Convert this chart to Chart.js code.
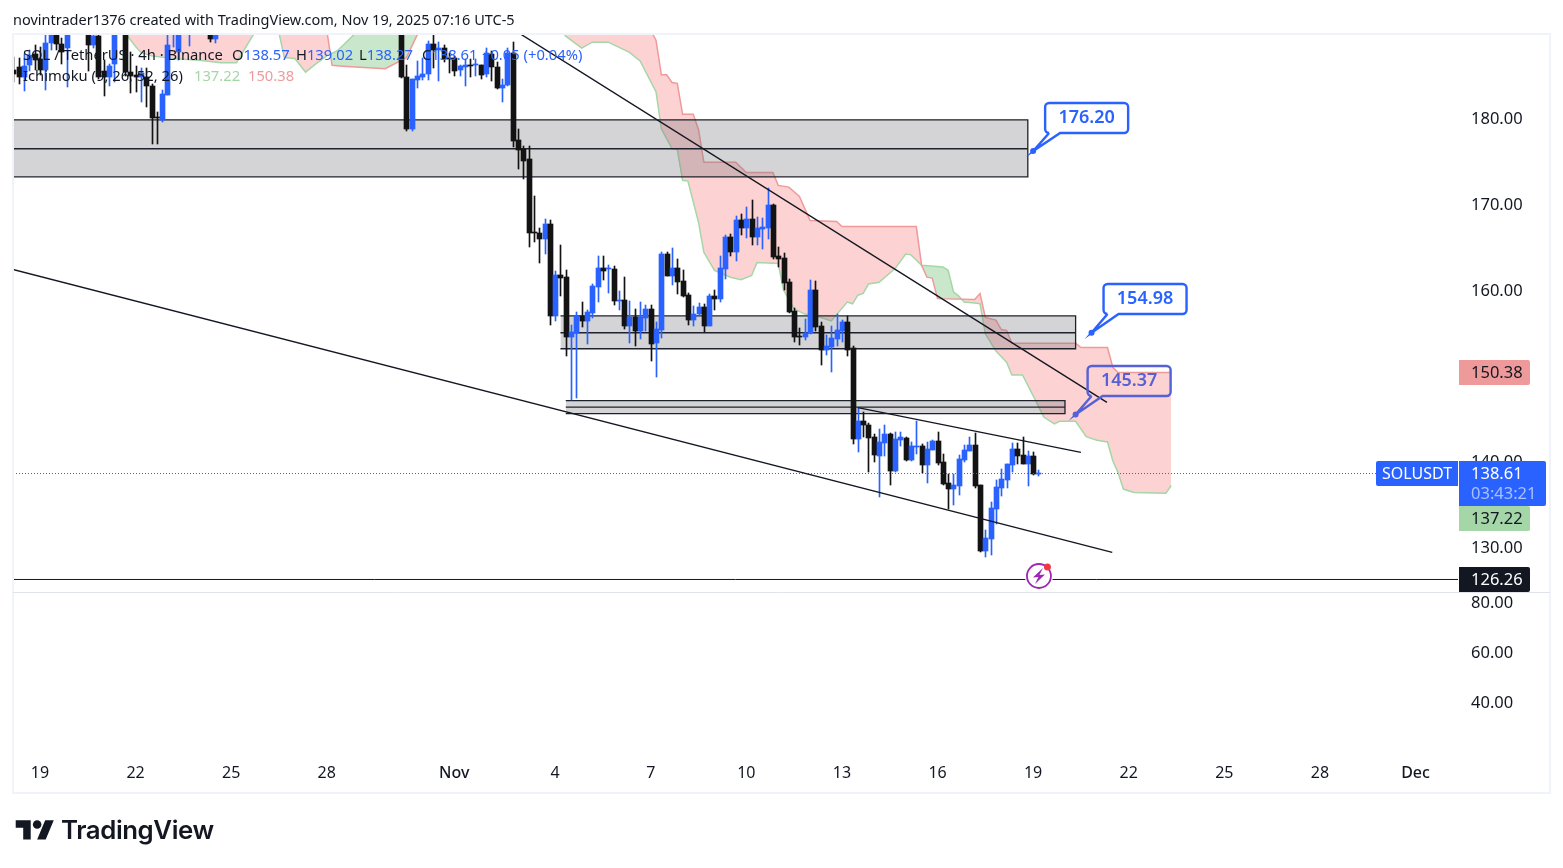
<!DOCTYPE html>
<html>
<head>
<meta charset="utf-8">
<title>SOLUSDT 4h</title>
<script src="https://cdn.jsdelivr.net/npm/chart.js@4"></script>
<style>
  html, body { margin: 0; padding: 0; background: #fff; }
  #wrap { position: relative; width: 1563px; height: 868px; overflow: hidden; font-family: "Noto Sans", sans-serif; color: #131722; }
  canvas { position: absolute; left: 0; top: 0; }
  .t { position: absolute; white-space: pre; line-height: 20px; font-size: 14.75px; }
  .blue { color: #2962ff; }
</style>
</head>
<body>
<div id="wrap">
  <canvas id="chart" width="1563" height="868"></canvas>
  <div class="t" style="left:13px;top:9px;font-size:14.5px">novintrader1376 created with TradingView.com, Nov 19, 2025 07:16 UTC-5</div>
  <div class="t" style="left:23px;top:44px">SOL / TetherUS · 4h · Binance</div>
  <div class="t" style="left:232px;top:44px">O<span class="blue">138.57</span></div>
  <div class="t" style="left:296px;top:44px">H<span class="blue">139.02</span></div>
  <div class="t" style="left:359px;top:44px">L<span class="blue">138.27</span></div>
  <div class="t" style="left:422px;top:44px">C<span class="blue">138.61</span></div>
  <div class="t blue" style="left:482px;top:44px">+0.05 (+0.04%)</div>
  <div class="t" style="left:23px;top:65px">Ichimoku (9, 26, 52, 26)</div>
  <div class="t" style="left:194px;top:65px;color:#a5d6a7">137.22</div>
  <div class="t" style="left:248px;top:65px;color:#ef9a9a">150.38</div>
  <svg style="position:absolute;left:15px;top:816px" width="40" height="30" viewBox="0 0 36 28" fill="#131722">
    <path d="M14 22H7V11H0V4h14v18zM28 22h-8l7.5-18h8L28 22z"/><circle cx="20" cy="8" r="4"/>
  </svg>
  <div class="t" style="left:61px;top:817px;line-height:26px;font-family:Inter,sans-serif;font-weight:600;font-size:25.8px;letter-spacing:-0.4px">TradingView</div>
</div>
<script>
// 4h candles, two visible runs; the bars between them sit above the visible range
const barRuns = [[-6, 39], [67, 121]];

const opens = [
  185.6,186.0,184.8,186.2,187.5,186.9,185.7,188.8,190.5,188.7,188.2,190.3,192.5,193.5,191.5,188.6,189.6,185.5,184.8,186.3,
  190.3,191.5,185.4,185.1,184.8,184.8,183.8,180.2,179.8,182.7,190.3,187.8,190,190.2,191,192,191.5,190.2,189.3,
  190.8,184.86,178.83,184.46,184.86,185.13,188.74,187.93,188.27,186.99,
  187.11,185.64,185.98,186.29,186.18,186.29,185.21,187.54,186.06,183.5,
  183.88,187.58,177.44,176.39,175.22,166.68,166.68,165.93,167.65,156.96,
  161.7,161.47,154.51,155.0,156.96,156.34,157.31,160.34,162.52,162.4,
  162.4,158.71,158.79,155.79,156.81,155.18,156.73,157.74,153.81,155.29,
  164.15,161.62,162.52,161.0,159.37,156.46,157.16,157.97,155.79,159.25,
  158.9,162.4,166.13,164.38,168.11,167.18,168.23,166.13,167.06,167.18,
  169.86,163.92,163.68,160.89,157.51,154.59,154.48,154.94,159.95,155.76,
  152.96,153.31,154.24,155.18,156.22,153.19,142.59,144.69,144.22,142.82,
  140.6,142.12,143.17,138.86,142.47,142.7,140.14,141.7,141.77,139.56,
  141.3,142.35,139.91,137.46,136.76,137.11,140.14,141.19,141.89,137.23,
  129.53,130.93,134.43,136.88,137.81,139.56,141.42,140.72,139.67,140.6,
  138.57
];
const highs = [
  187.2,187.1,187.5,188.0,188.6,188.3,189.8,191.5,191.5,189.4,190.8,193,194,194.5,192,190.5,190.8,186.8,186.3,191,
  192,192,187.7,186.1,185.9,185.9,184,180.7,183.3,190.5,191.5,191,192,191.5,192.5,193,192,190.6,190.6,
  191.5,186.29,184.66,186.76,187,189.09,189.8,188.97,188.62,187.69,
  187.26,186.29,186.99,186.88,186.88,186.29,188.16,187.84,186.53,184.55,
  188.16,188.97,178.72,176.85,176.85,170.91,167.18,168.34,168.11,162.17,
  165.2,162.28,155.87,157.39,158.55,157.62,160.65,163.92,163.92,162.87,
  162.75,159.84,161.47,158.67,157.74,158.55,158.21,158.21,156.26,164.42,
  164.42,164.85,163.57,162.28,159.64,158.09,158.44,158.32,159.49,159.95,
  163.92,166.36,166.48,168.69,168.81,169.74,170.44,168.5,168.38,171.84,
  170.09,165,164.27,161.24,157.86,155.52,156.57,161.12,161,156.26,
  154.71,155.76,157.16,156.46,156.96,153.43,146.28,145.73,144.45,143.17,
  143.75,144.22,143.29,143.4,143.4,142.82,142.24,144.69,142,142.24,
  142.47,143.4,140.84,138.51,138.51,140.72,141.89,142.82,143.29,137.23,
  131.98,135.25,137.81,139.09,139.67,142.12,142.12,142.82,141.19,141.07,
  139.02
];
const lows = [
  184.2,184.0,183.2,185.5,185.7,185.1,183.3,188.0,188.0,186.3,183.7,190,191.5,191,185.5,188.2,184.6,182.6,183.8,184.2,
  190,184.9,183.0,183.1,181.9,181.3,177,177,179.6,182.7,188.3,186.8,189.9,188.4,190.2,191,190.5,188.9,188.8,
  184.7,178.6,178.6,183.61,184.43,184.43,185.94,184.35,186.53,185.36,
  184.93,185.01,183.76,184.81,184.93,184.66,184.78,184.35,183.38,181.9,
  183.76,176.65,174.17,172.89,165,165.58,163.14,164.15,155.87,156.37,
  159.29,152.26,147.13,147.37,155.68,153.66,156.73,158.59,161.12,159.64,
  158.21,157.62,155.41,153.81,153.46,154.24,155.21,151.71,149.85,154.39,
  161.62,160.57,159.49,159.14,155.87,155.76,157.12,155.06,155.76,157.62,
  158.59,161.24,163.92,163.33,166.36,166.05,165.2,165.2,164.73,165.9,
  163.57,162.63,159.95,157.31,153.89,153.54,154.13,154.91,155.18,151.21,
  152.38,150.4,153.46,153.89,152.26,142,141.11,142.82,138.74,139.91,
  135.86,140.6,137.23,138.78,141.77,140.02,140.02,140.84,138.63,137.46,
  141.3,139.56,137.23,134.43,134.89,136.06,139.91,141.19,136.88,129.42,
  128.87,129.07,132.68,135.94,136.88,138.74,139.67,139.67,137.11,138.39,
  138.27
];
const closes = [
  185.2,184.8,186.1,187.4,186.8,185.7,188.8,190.3,188.7,187.7,190.3,192.5,193.5,192,188.6,189.6,184.8,184.8,186.1,190.3,
  191.5,185.4,185.0,184.8,185.3,183.8,180.1,180.0,182.8,188.6,191,190,191.5,191,192,191.5,190.6,189.3,190.2,
  184.81,178.83,184.55,185.01,185.21,188.71,188.04,188.27,186.99,186.9,
  185.59,186.1,186.29,186.1,186.29,185.05,187.58,185.98,183.5,183.96,
  187.58,177.35,176.27,175.1,166.63,166.63,165.93,167.65,156.96,161.7,
  161.39,154.51,155.06,156.96,156.34,157.39,160.45,162.52,162.2,162.45,
  158.71,158.79,155.79,156.81,155.18,156.81,157.74,153.66,155.41,164.15,
  161.62,162.52,160.89,159.25,156.46,157.24,157.97,155.79,159.25,158.94,
  162.52,166.13,164.38,168.11,167.18,168.23,166.13,167.18,167.3,169.86,
  163.8,163.57,160.77,157.39,154.48,154.48,154.98,159.95,155.64,152.96,
  153.43,154.36,155.29,156.22,152.96,142.59,144.69,144.22,142.7,140.72,
  142.24,143.17,138.86,142.59,142.82,140.14,141.77,141.77,139.56,141.42,
  142.35,139.79,137.34,136.76,137.23,140.26,141.3,141.89,137.11,129.53,
  131.05,134.55,136.99,137.93,139.67,141.42,140.69,139.67,140.6,138.5,
  138.61
];

// Ichimoku leading spans, vertices (bar index, price)
const spanABars = [-6,14,15,17,18,20,24,29,33,36,39,40,42,44,45,47,49,51,53,55,57,59,64,70,97,98,101,103,106,110,112,115,116,118,119,120,121,123,124,126,129,131,133,134,138,139,141,143,145,148,151,152,153,154,155,157,160,162,163,165,169,170,171,172,173,175,176,177,179,181,182,184,186,188,190,191,194,196,198,200,201,202,203,205,211,212];
const spanAValues = [197,191,190,188.4,187.7,187.3,187,186.8,186.5,186.5,189.6,190.5,191.5,190,187.1,187,185.4,186.4,187.3,187.9,189.1,190.3,191,191,190.5,189.6,188.2,188.9,188.9,187.7,186.7,183.1,178.8,176.5,176.4,172.8,172.7,167.9,164.4,162.3,161.5,161.2,161.7,163.2,163.1,160,157.8,157.2,157,156.4,158.6,158.4,159.4,159.6,160.7,160.9,162.5,164.2,164.1,162.9,162.7,162.3,159.8,159.3,158.6,158.5,158.4,154.9,152.9,151.6,150.1,150.1,147.7,145.2,144.4,144.7,144.7,142.9,142.5,142.3,140.1,138.7,136.8,136.4,136.3,137.22];
const spanBBars = [-6,14,17,40,42,44,53,54,56,64,68,70,72,97,114,115,116,117,118,119,120,122,123,124,130,132,137,138,140,142,144,149,150,164,165,166,167,168,175,176,177,179,180,181,182,194,195,200,201,202,212];
const spanBValues = [195,192,192,192,191,192,190.3,186.2,186.1,185.8,187.1,189.7,191,192,190.3,189.1,185.1,185.1,184.2,184.1,180.5,180.5,178.7,174.9,174.9,173.7,173.7,172.2,172,170.9,168.1,168,167.4,167.4,162.9,161.5,161.4,159,158.9,159.6,156.8,156.5,155.4,155.3,153.8,153.8,153.3,153.3,151,150.38,150.38];

// grey zones: first bar, last bar, top, middle, bottom
const zoneStart = [-7, 97, 98];
const zoneEnd = [185, 194, 192];
const zoneTop = [179.85, 156.98, 147.11];
const zoneMid = [176.47, 155.02, 146.36];
const zoneLow = [173.2, 153.16, 145.59];

// trend lines
const trendBars = [[89.6, 199.9], [-6.1, 200.9], [153, 195]];
const trendPrices = [[189.8, 146.9], [162.4, 129.42], [146.3, 141.07]];

const floorPrice = 126.26;
const lastPrice = 138.61;
const leftBar = -6.08, rightBar = 266;

const dayTickBars = [-1,17,35,53,77,96,114,132,150,168,186,204,222,240,258];
const dayTickLabels = ['19','22','25','28','Nov','4','7','10','13','16','19','22','25','28','Dec'];
const mainTicks = [180,170,160,150,140,130];
const lowerTicks = [80,60,40];

const calloutTexts = ['176.20','154.98','145.37'];
const calloutBars = [186,197,194];
const calloutPrices = [176.2,155.02,145.5];
const calloutColors = ['#2962ff','#2962ff','#5561d6'];

const BLUE = '#2962ff', BLACK = '#131313', INK = '#131722';
const axisFont = '"Noto Sans", sans-serif';

const barIndex = [];
barRuns.forEach(([start, count]) => { for (let i = 0; i < count; i++) barIndex.push(start + i); });
const barColors = opens.map((o, i) => closes[i] >= o ? BLUE : BLACK);

const datasets = [];

// cloud
datasets.push({
  type: 'line', label: 'Leading span A', order: 50, yAxisID: 'y',
  data: spanABars.map((b, i) => ({ x: b, y: spanAValues[i] })),
  borderColor: '#a5d6a7', borderWidth: 1.5, pointRadius: 0, tension: 0,
  fill: { target: 1, above: 'rgba(76,175,80,0.3)', below: 'rgba(245,60,60,0.23)' }
});
datasets.push({
  type: 'line', label: 'Leading span B', order: 49, yAxisID: 'y',
  data: spanBBars.map((b, i) => ({ x: b, y: spanBValues[i] })),
  borderColor: '#ef9a9a', borderWidth: 1.5, pointRadius: 0, tension: 0, fill: false
});

// zones
zoneStart.forEach((s, z) => {
  const e = zoneEnd[z];
  datasets.push({
    type: 'line', order: 40, yAxisID: 'y',
    data: [{ x: s, y: zoneTop[z] }, { x: e, y: zoneTop[z] }],
    borderWidth: 0, pointRadius: 0,
    fill: { value: zoneLow[z] }, backgroundColor: 'rgba(115,115,124,0.31)'
  });
  datasets.push({
    type: 'line', order: 39, yAxisID: 'y',
    data: [{ x: s, y: zoneTop[z] }, { x: e, y: zoneTop[z] }, { x: e, y: zoneLow[z] }, { x: s, y: zoneLow[z] }],
    borderColor: '#1e222d', borderWidth: 1.3, pointRadius: 0, fill: false
  });
  datasets.push({
    type: 'line', order: 39, yAxisID: 'y',
    data: [{ x: s, y: zoneMid[z] }, { x: e, y: zoneMid[z] }],
    borderColor: '#1e222d', borderWidth: 1.3, pointRadius: 0, fill: false
  });
});

// candles
datasets.push({
  type: 'bar', label: 'wicks', order: 31, yAxisID: 'y', grouped: false,
  data: barIndex.map((b, i) => ({ x: b, y: [lows[i], highs[i]] })),
  backgroundColor: barColors, barThickness: 1
});
datasets.push({
  type: 'bar', label: 'bodies', order: 30, yAxisID: 'y', grouped: false,
  data: barIndex.map((b, i) => ({ x: b, y: [opens[i], closes[i]] })),
  backgroundColor: barColors, barThickness: 5, minBarLength: 1
});

// trend lines
trendBars.forEach((tb, t) => {
  datasets.push({
    type: 'line', order: 10, yAxisID: 'y',
    data: tb.map((b, i) => ({ x: b, y: trendPrices[t][i] })),
    borderColor: '#131722', borderWidth: 1.4, pointRadius: 0, fill: false
  });
});

// floor line and last price line
datasets.push({
  type: 'line', order: 11, yAxisID: 'y',
  data: [{ x: leftBar, y: floorPrice }, { x: rightBar, y: floorPrice }],
  borderColor: '#131722', borderWidth: 1, pointRadius: 0, fill: false
});
datasets.push({
  type: 'line', order: 12, yAxisID: 'y',
  data: [{ x: leftBar, y: lastPrice }, { x: rightBar, y: lastPrice }],
  borderColor: BLUE, borderWidth: 1, borderDash: [1, 2], pointRadius: 0, fill: false
});

// candles get snapped to whole pixels so they stay crisp like the original
const snapBars = {
  id: 'snapBars',
  beforeDatasetsDraw(chart) {
    chart.getSortedVisibleDatasetMetas().forEach(meta => {
      if (meta.type !== 'bar') return;
      meta.data.forEach(el => {
        el.x = Math.round(el.x) + 0.5;
        el.y = Math.round(el.y);
        el.base = Math.round(el.base);
        if (el.y === el.base) el.base = el.y + 1;
      });
    });
  }
};

// nudge the price labels down a little, the font sits high on the middle baseline
function nudgeLabels(s) {
  if (s._nudged) return;
  s._nudged = true;
  const orig = s._computeLabelItems;
  s._computeLabelItems = function (area) {
    const items = orig.call(this, area);
    items.forEach(it => { it.options.translation[1] += 0.8; });
    return items;
  };
}

function tag(ctx, x, y, w, h, fill, lines) {
  ctx.fillStyle = fill;
  ctx.beginPath();
  ctx.roundRect(x, y, w, h, [0, 2, 2, 0]);
  ctx.fill();
  ctx.textBaseline = 'middle';
  ctx.textAlign = 'left';
  lines.forEach(l => {
    ctx.fillStyle = l.color;
    ctx.font = '16.5px ' + axisFont;
    ctx.fillText(l.text, x + l.dx, l.y);
  });
}

const overlay = {
  id: 'overlay',
  afterDraw(chart) {
    const { ctx } = chart;
    const xs = chart.scales.x, ys = chart.scales.y;
    ctx.save();

    // pane frame
    ctx.strokeStyle = '#f0f3fa';
    ctx.lineWidth = 2;
    ctx.strokeRect(13, 34, 1537, 759);
    ctx.strokeStyle = '#e0e3eb';
    ctx.lineWidth = 1;
    ctx.beginPath();
    ctx.moveTo(13, 592.5);
    ctx.lineTo(1550, 592.5);
    ctx.stroke();

    // callouts
    calloutTexts.forEach((txt, i) => {
      const px = xs.getPixelForValue(calloutBars[i]);
      const py = ys.getPixelForValue(calloutPrices[i]);
      const bx = px + 12, by = Math.round(py - 48.5), bw = 83, bh = 30;
      ctx.strokeStyle = calloutColors[i];
      ctx.fillStyle = calloutColors[i];
      ctx.lineWidth = 2.4;
      ctx.beginPath();
      ctx.moveTo(bx + 4, by + bh);
      ctx.lineTo(px, py);
      ctx.lineTo(bx + 15, by + bh);
      ctx.lineTo(bx + bw - 4, by + bh);
      ctx.arcTo(bx + bw, by + bh, bx + bw, by + bh - 4, 4);
      ctx.lineTo(bx + bw, by + 4);
      ctx.arcTo(bx + bw, by, bx + bw - 4, by, 4);
      ctx.lineTo(bx + 4, by);
      ctx.arcTo(bx, by, bx, by + 4, 4);
      ctx.lineTo(bx, by + bh - 4);
      ctx.arcTo(bx, by + bh, bx + 4, by + bh, 4);
      ctx.stroke();
      ctx.beginPath();
      ctx.arc(px, py, 3, 0, Math.PI * 2);
      ctx.fill();
      ctx.font = '600 18px ' + axisFont;
      ctx.textAlign = 'center';
      ctx.textBaseline = 'middle';
      ctx.fillText(txt, bx + bw / 2, by + bh / 2);
    });

    // flash icon on the floor line
    const ix = xs.getPixelForValue(187) + 0.5, iy = 576;
    ctx.fillStyle = '#fff';
    ctx.beginPath();
    ctx.arc(ix, iy, 14, 0, Math.PI * 2);
    ctx.fill();
    ctx.strokeStyle = '#9c27b0';
    ctx.lineWidth = 1.8;
    ctx.beginPath();
    ctx.arc(ix, iy, 12, 0, Math.PI * 2);
    ctx.stroke();
    ctx.fillStyle = '#9c27b0';
    ctx.beginPath();
    ctx.moveTo(ix + 4, iy - 8);
    ctx.lineTo(ix - 6, iy + 1.5);
    ctx.lineTo(ix - 0.5, iy + 1);
    ctx.lineTo(ix - 4, iy + 8);
    ctx.lineTo(ix + 6, iy - 1.5);
    ctx.lineTo(ix + 0.5, iy - 1);
    ctx.closePath();
    ctx.fill();
    ctx.fillStyle = '#f23645';
    ctx.beginPath();
    ctx.arc(ix + 8.5, iy - 9, 3.5, 0, Math.PI * 2);
    ctx.fill();

    // price tags
    tag(ctx, 1459, 360, 71, 25, '#ef9a9a', [{ text: '150.38', dx: 12, y: 373, color: INK }]);
    tag(ctx, 1459, 506, 71, 25, '#a5d6a7', [{ text: '137.22', dx: 12, y: 519, color: INK }]);
    tag(ctx, 1459, 567, 71, 25, '#131722', [{ text: '126.26', dx: 12, y: 580, color: '#fff' }]);
    ctx.fillStyle = BLUE;
    ctx.beginPath();
    ctx.roundRect(1376, 461, 82, 25, [2, 0, 0, 2]);
    ctx.fill();
    tag(ctx, 1459, 461, 87, 45, BLUE, [
      { text: '138.61', dx: 12, y: 474, color: '#fff' },
      { text: '03:43:21', dx: 12, y: 494, color: '#a9c1ff' }
    ]);
    ctx.fillStyle = '#fff';
    ctx.font = '16px ' + axisFont;
    ctx.textBaseline = 'middle';
    ctx.fillText('SOLUSDT', 1382, 474);

    ctx.restore();
  }
};

new Chart(document.getElementById('chart').getContext('2d'), {
  type: 'bar',
  data: { datasets },
  plugins: [snapBars, overlay],
  options: {
    responsive: false,
    animation: false,
    parsing: { xAxisKey: 'x', yAxisKey: 'y' },
    layout: { padding: { left: 13, top: 34, right: 13, bottom: 75 } },
    plugins: { legend: { display: false }, tooltip: { enabled: false } },
    elements: { line: { tension: 0 }, bar: { borderWidth: 0 } },
    scales: {
      x: {
        type: 'linear', min: leftBar, max: rightBar,
        offset: false,
        grid: { display: false, drawTicks: false }, border: { display: false },
        afterBuildTicks(s) { s.ticks = dayTickBars.map(v => ({ value: v })); },
        afterFit(s) { s.height = 35; },
        ticks: {
          autoSkip: false, maxRotation: 0, padding: 6, color: INK,
          font: ctx => ({ family: axisFont, size: 16, weight: (ctx.tick && (ctx.tick.value === 77 || ctx.tick.value === 258)) ? '500' : '400' }),
          callback: v => dayTickLabels[dayTickBars.indexOf(v)]
        }
      },
      y: {
        position: 'right', stack: 'panes', stackWeight: 558,
        min: 124.8, max: 189.85,
        grid: { display: false, drawTicks: false }, border: { display: false },
        afterBuildTicks(s) { s.ticks = mainTicks.map(v => ({ value: v })); },
        afterFit(s) { s.width = 92; nudgeLabels(s); },
        ticks: { color: INK, padding: 13, font: { family: axisFont, size: 16.5 }, callback: v => v.toFixed(2) }
      },
      lower: {
        position: 'right', stack: 'panes', stackWeight: 166,
        min: 17.6, max: 84,
        grid: { display: false, drawTicks: false }, border: { display: false },
        afterBuildTicks(s) { s.ticks = lowerTicks.map(v => ({ value: v })); },
        afterFit(s) { s.width = 92; nudgeLabels(s); },
        ticks: { color: INK, padding: 13, font: { family: axisFont, size: 16.5 }, callback: v => v.toFixed(2) }
      }
    }
  }
});
</script>
</body>
</html>
